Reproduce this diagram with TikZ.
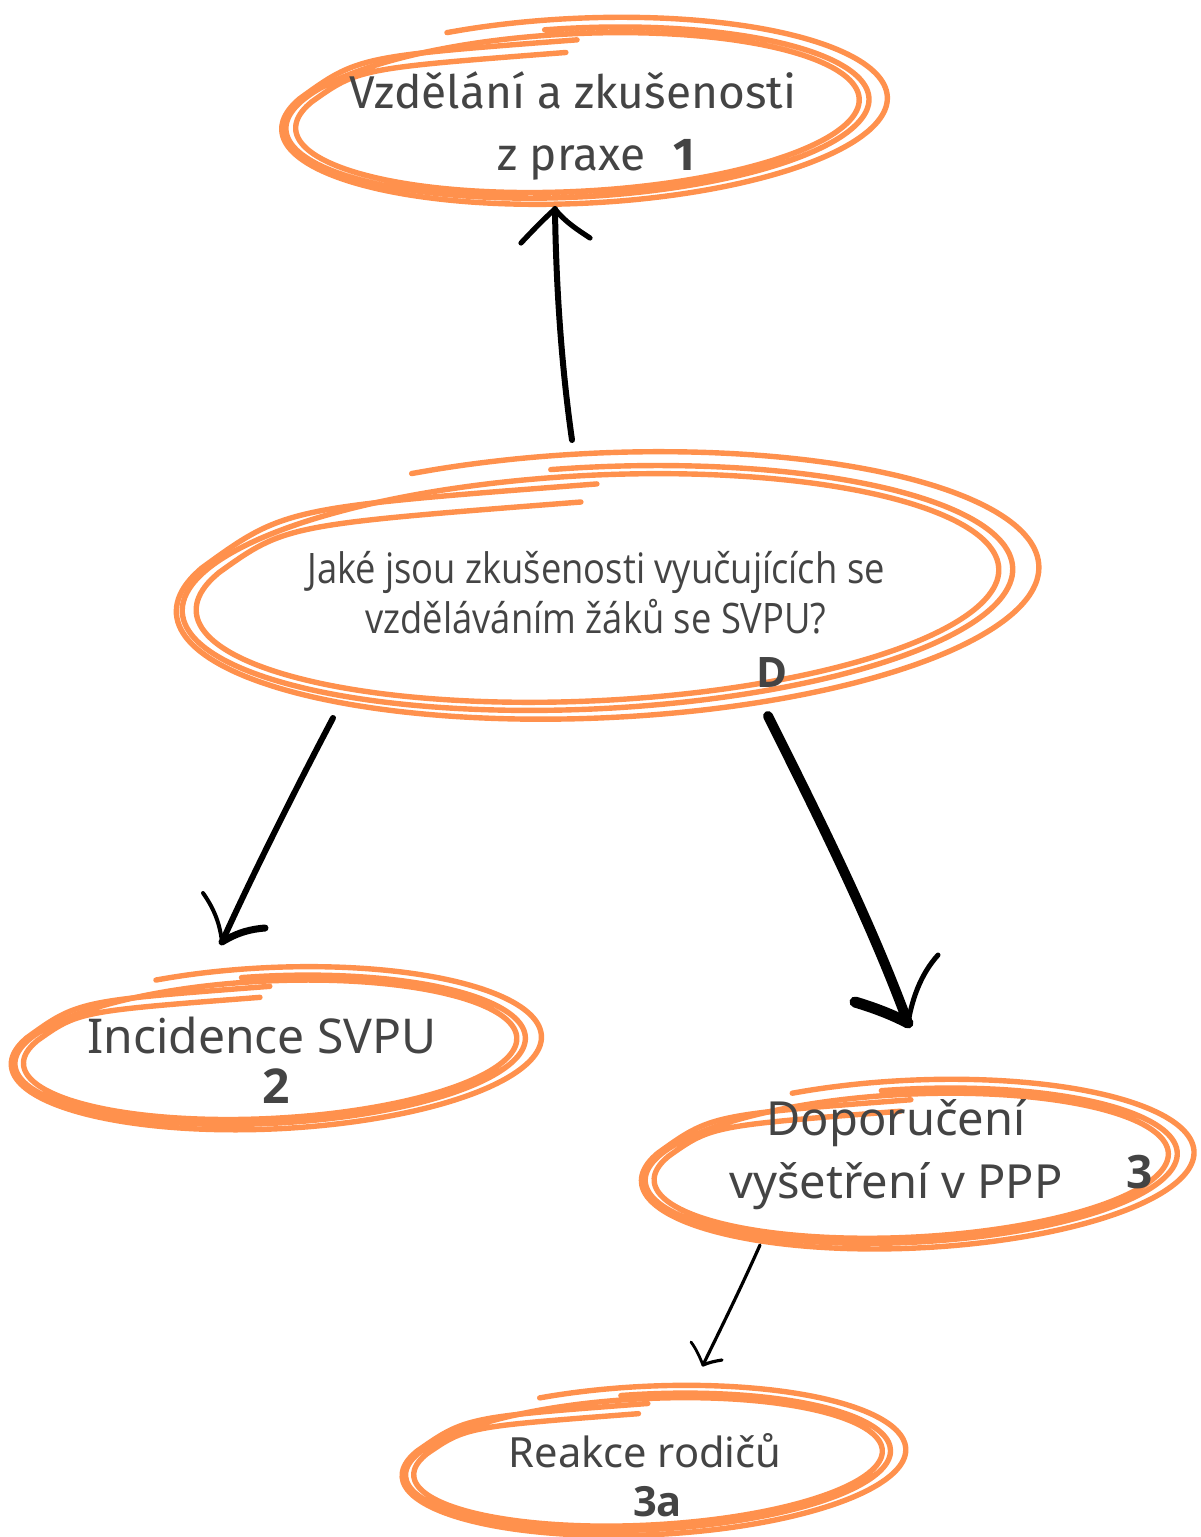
\documentclass[tikz,border=0pt]{standalone}
\usepackage{fontspec}
\setmainfont{Noto Sans}
\newfontfamily\topfont{Fira Sans}
\newfontfamily\qfont[FakeStretch=0.865]{Open Sans}
\newfontfamily\numfont{Open Sans}
\definecolor{scrib}{HTML}{FF914D}
\definecolor{txt}{HTML}{444444}
\tikzset{
  scribline/.style={draw=scrib, line width=2.7pt, line cap=round, line join=round},
  arrowline/.style={draw=black, line cap=round, line join=round},
  label/.style={text=txt, align=center, inner sep=0pt},
}
% #1 cx, #2 cy, #3 a, #4 b, #5 rotation
\newcommand\scrib[5]{%
  \begin{scope}[shift={(#1,#2)}, rotate=#5]
  \draw[scribline] plot[smooth, samples=90, domain=246:560, variable=\t]
   ({0.015*#3 + #3*(1.06-0.06*(\t-246)/314)*cos(\t)}, {#4*(1.12-0.12*(\t-246)/314)*sin(\t)})
   .. controls ({-0.72*#3},{-0.80*#4}) .. ({0.02*#3},{-0.86*#4});
  \draw[scribline] plot[smooth, samples=180, domain=265:920, variable=\t]
   ({#3*(1.0-0.06*(\t-265)/655)*cos(\t)}, {#4*(1.0-0.12*(\t-265)/655)*sin(\t)})
   .. controls ({-0.72*#3},{-0.66*#4}) .. ({-0.02*#3},{-0.72*#4});
  \end{scope}
}
\begin{document}
\begin{tikzpicture}[x=0.5pt,y=-0.5pt]
\useasboundingbox (0,0) rectangle (1200,1537);
\fill[white] (0,0) rectangle (1200,1537);

% scribbled ellipses
\scrib{575}{114}{297}{86}{3}
\scrib{594}{590}{423}{123}{3}
\scrib{268}{1051}{260}{75}{3}
\scrib{909}{1167}{271}{78}{3}
\scrib{646}{1463}{247}{69}{3}

% texts
\node[label, font=\topfont\fontsize{23}{31}\selectfont] (edu) at (573,126)
  {Vzdělání a zkušenosti\\\hspace*{1.0em}z praxe\hspace{0.6em}\textbf{1}};
\node[label, font=\qfont\fontsize{21}{25}\selectfont] (q) at (596,593)
  {Jaké jsou zkušenosti vyučujících se\\vzděláváním žáků se SVPU?};
\node[label, font=\numfont\fontsize{21}{21}\selectfont\bfseries] (qd) at (772,672) {D};
\node[label, font=\fontsize{24}{25}\selectfont] (inc) at (262,1060)
  {Incidence SVPU\\\hspace*{0.6em}{\numfont\bfseries 2}};
\node[label, font=\fontsize{23.5}{31.5}\selectfont] (dop) at (896,1155)
  {Doporučení\\vyšetření v PPP};
\node[label, font=\numfont\fontsize{23}{23}\selectfont\bfseries] (dop3) at (1140,1172) {3};
\node[label, font=\fontsize{20.8}{24.5}\selectfont] (rea) at (645,1475)
  {Reakce rodičů\\\hspace*{0.6em}{\numfont\bfseries 3a}};

% connector end points
\coordinate (s1) at (572,440);
\coordinate (t1) at (555,209);
\coordinate (s2) at (333,718);
\coordinate (t2) at (222,942);
\coordinate (s3) at (768,716);
\coordinate (t3) at (908,1023);
\coordinate (s4) at (760,1245);
\coordinate (t4) at (703,1365);

% top arrow
\draw[arrowline, line width=3pt] (s1) .. controls (562,370) and (556,290) .. (t1);
\draw[arrowline, line width=2.6pt] (521,243) .. controls (535,228) and (547,216) .. (t1);
\draw[arrowline, line width=2.6pt] (t1) .. controls (565,222) and (578,230) .. (590,238);

% left arrow
\draw[arrowline, line width=3pt] (s2) .. controls (295,790) and (250,880) .. (t2);
\draw[arrowline, line width=2pt] (203,893) .. controls (215,910) and (220,925) .. (t2);
\draw[arrowline, line width=3.5pt] (t2) .. controls (238,932) and (252,929) .. (265,928);

% right arrow
\draw[arrowline, line width=5pt] (s3) .. controls (820,820) and (870,920) .. (t3);
\draw[arrowline, line width=2.5pt] (938,955) .. controls (920,975) and (912,1000) .. (t3);
\draw[arrowline, line width=5.5pt] (855,1002) .. controls (875,1008) and (893,1015) .. (t3);

% small arrow
\draw[arrowline, line width=1.6pt] (s4) .. controls (740,1290) and (720,1330) .. (t4);
\draw[arrowline, line width=1.4pt] (691,1342) .. controls (697,1350) and (700,1358) .. (t4);
\draw[arrowline, line width=1.6pt] (t4) .. controls (710,1362) and (716,1361) .. (722,1360);
\end{tikzpicture}
\end{document}
